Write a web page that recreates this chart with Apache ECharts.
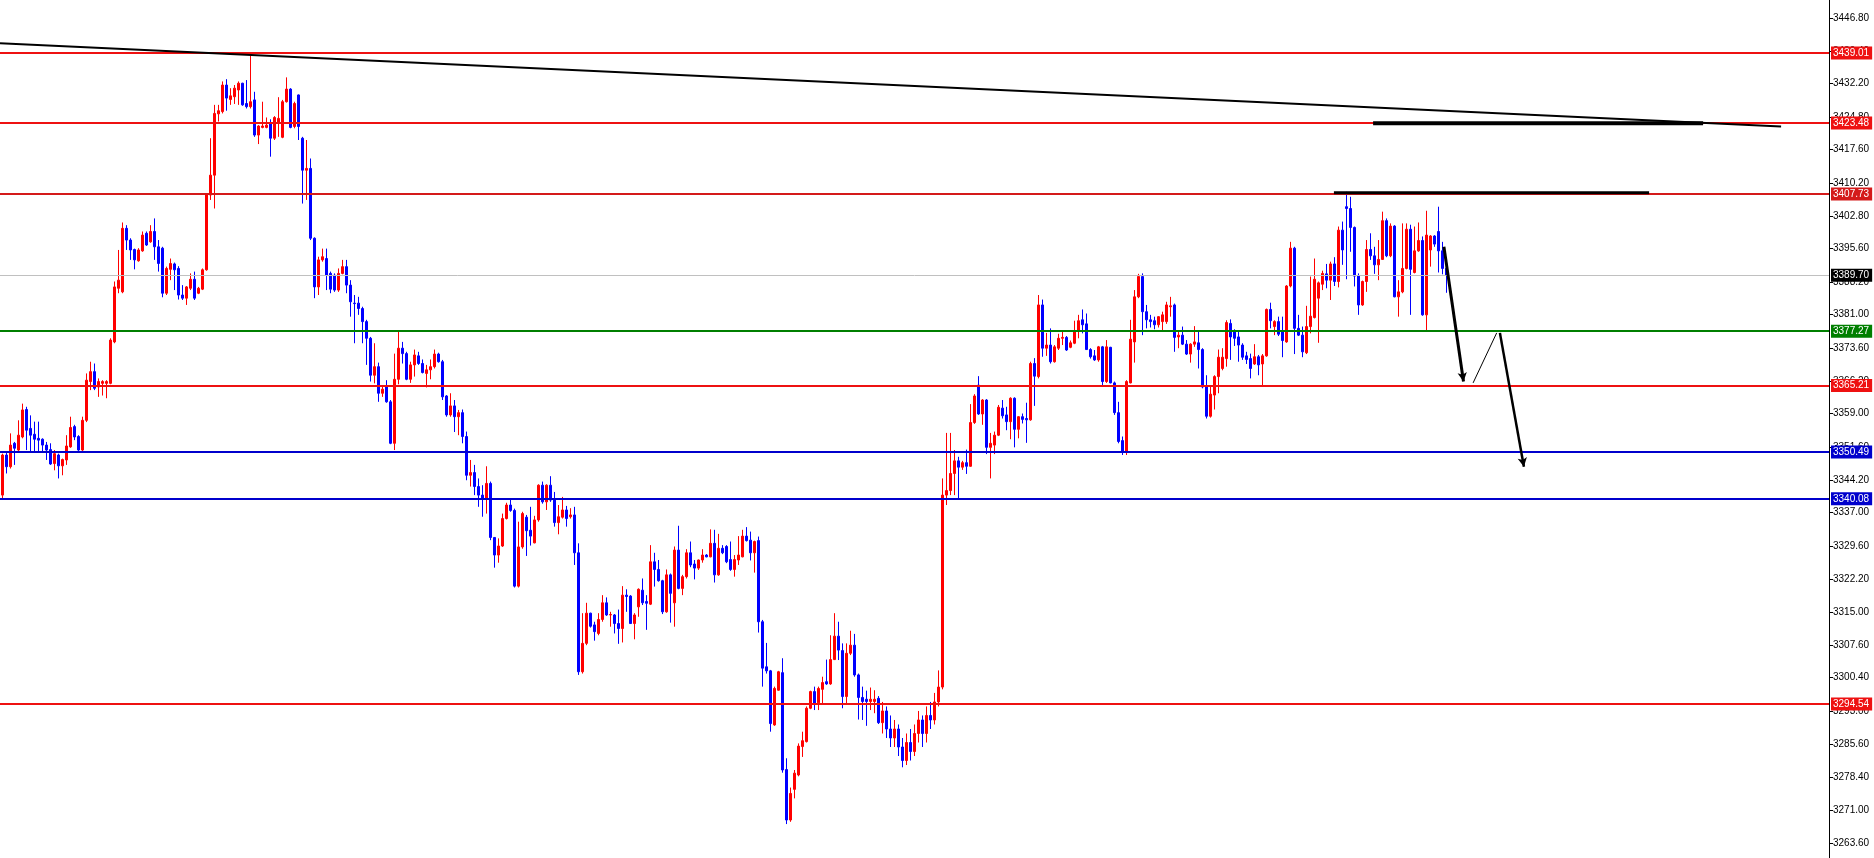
<!DOCTYPE html>
<html><head><meta charset="utf-8">
<script src="https://cdn.jsdelivr.net/npm/echarts@6/dist/echarts.min.js"></script>
<style>html,body{margin:0;padding:0;background:#fff}#c{width:1874px;height:858px}</style>
</head><body><div id="c"></div>
<script>
// candles: [open, close, low, high]
const candles = [
[3340.9,3349.8,3340.2,3350.1],[3349.8,3347.2,3345.7,3350.5],[3347.2,3352.0,3346.8,3354.6],[3352.4,3351.3,3347.6,3352.7],
[3350.9,3354.2,3350.5,3357.5],[3353.8,3359.8,3353.5,3361.2],[3359.9,3355.3,3350.9,3360.5],[3355.7,3354.2,3350.5,3358.6],
[3354.4,3353.3,3350.5,3357.2],[3353.5,3353.1,3350.5,3357.2],[3353.3,3352.0,3350.5,3353.5],[3352.0,3350.9,3348.7,3352.7],
[3351.0,3347.8,3347.6,3352.4],[3347.9,3350.1,3346.4,3350.9],[3349.8,3347.4,3344.6,3350.1],[3347.4,3348.8,3345.3,3349.0],
[3348.7,3351.8,3347.6,3354.2],[3351.6,3355.9,3351.4,3358.3],[3356.1,3353.8,3353.1,3356.5],[3353.9,3350.9,3350.7,3354.2],
[3350.9,3357.5,3350.7,3358.3],[3357.5,3366.4,3357.1,3367.9],[3366.1,3368.3,3364.2,3370.5],[3368.3,3364.6,3364.2,3370.1],
[3364.9,3366.1,3362.7,3366.8],[3365.7,3366.1,3363.0,3366.4],[3365.7,3366.1,3362.4,3366.4],[3365.7,3375.3,3365.5,3375.7],
[3374.9,3387.1,3374.6,3388.3],[3386.8,3388.6,3385.7,3395.3],[3386.0,3400.1,3385.7,3401.4],[3400.1,3397.5,3395.3,3400.8],
[3397.5,3395.3,3393.1,3397.9],[3395.4,3393.1,3391.0,3395.6],[3392.9,3395.3,3392.7,3395.7],[3395.1,3398.6,3394.9,3399.4],
[3399.0,3396.4,3396.2,3399.4],[3397.1,3399.4,3396.9,3400.8],[3399.4,3396.0,3393.1,3402.3],[3396.0,3392.3,3390.5,3397.5],
[3395.7,3385.7,3384.8,3396.0],[3385.7,3391.2,3385.3,3391.6],[3391.0,3392.3,3388.6,3393.4],[3392.2,3390.9,3386.4,3392.5],
[3391.2,3385.3,3384.3,3391.7],[3385.3,3384.6,3384.2,3387.5],[3384.6,3387.1,3383.1,3387.3],[3386.8,3388.8,3386.4,3390.1],
[3388.8,3384.6,3384.2,3390.5],[3385.7,3386.8,3385.5,3387.1],[3386.6,3390.9,3386.4,3391.2],[3390.9,3407.5,3390.7,3407.9],
[3407.5,3411.9,3406.4,3420.1],[3411.9,3425.6,3404.5,3427.5],[3425.5,3426.2,3423.8,3427.5],[3426.0,3431.9,3425.6,3432.7],
[3431.9,3429.0,3426.2,3433.2],[3428.7,3429.5,3427.5,3431.2],[3429.3,3431.2,3427.7,3431.9],[3430.8,3432.3,3427.5,3432.7],
[3432.3,3427.5,3427.3,3432.4],[3427.8,3427.1,3426.7,3433.0],[3427.1,3428.2,3426.7,3438.9],[3428.6,3420.8,3420.4,3430.4],
[3420.8,3422.8,3418.8,3423.0],[3422.5,3422.8,3422.3,3428.2],[3422.5,3423.0,3422.3,3424.7],[3423.4,3420.1,3416.0,3424.3],
[3420.1,3424.7,3419.7,3425.0],[3423.6,3424.5,3420.4,3429.2],[3420.3,3428.2,3420.1,3428.6],[3428.2,3431.0,3428.0,3433.6],
[3431.0,3422.5,3422.3,3431.2],[3422.7,3427.8,3422.3,3428.2],[3429.7,3422.7,3419.7,3429.8],[3420.1,3413.0,3405.6,3420.4],
[3413.0,3413.4,3406.4,3419.7],[3413.4,3397.9,3397.5,3415.6],[3397.9,3387.1,3384.6,3398.1],[3387.1,3393.1,3385.3,3393.8],
[3393.1,3393.8,3392.7,3395.6],[3393.4,3389.7,3386.4,3395.6],[3390.1,3386.6,3385.7,3390.5],[3389.7,3386.4,3386.0,3390.1],
[3386.4,3390.1,3386.0,3391.2],[3390.1,3391.6,3389.9,3393.1],[3391.6,3387.5,3385.7,3393.1],[3387.5,3383.8,3380.5,3388.6],
[3383.5,3383.4,3374.6,3385.3],[3383.5,3382.3,3380.9,3384.9],[3382.3,3379.4,3374.6,3382.7],[3379.4,3375.7,3369.8,3379.8],
[3375.7,3367.5,3366.1,3376.0],[3367.5,3369.4,3365.7,3374.6],[3369.4,3363.5,3361.6,3370.3],[3363.5,3364.4,3362.7,3365.3],
[3365.0,3361.6,3361.4,3366.4],[3361.6,3352.4,3352.2,3362.0],[3352.4,3366.6,3350.9,3372.3],[3366.6,3373.5,3365.5,3377.2],
[3373.5,3372.3,3370.1,3374.9],[3372.3,3366.6,3366.4,3372.7],[3366.6,3369.8,3365.8,3370.5],[3369.8,3372.0,3367.2,3373.2],
[3371.8,3370.1,3369.8,3372.7],[3370.1,3368.1,3367.9,3371.0],[3367.9,3368.7,3364.8,3369.8],[3368.7,3369.4,3366.6,3371.0],
[3369.4,3372.2,3369.0,3373.2],[3372.2,3370.5,3370.3,3372.5],[3370.5,3362.7,3362.0,3370.9],[3362.9,3358.7,3358.3,3363.1],
[3358.7,3360.7,3358.3,3363.5],[3360.7,3358.3,3354.9,3362.0],[3358.3,3359.2,3354.2,3359.8],[3359.2,3353.9,3352.4,3359.9],
[3353.9,3345.3,3344.2,3355.0],[3345.3,3345.9,3342.8,3348.7],[3345.9,3342.8,3340.9,3347.6],[3342.8,3340.9,3338.3,3344.6],
[3340.9,3340.2,3336.1,3343.1],[3340.2,3343.5,3336.8,3347.3],[3343.5,3331.5,3330.9,3343.9],[3331.5,3327.6,3324.8,3331.6],
[3327.6,3329.6,3325.9,3331.3],[3329.6,3335.7,3329.4,3336.8],[3335.7,3338.7,3335.5,3339.2],[3338.7,3337.5,3337.2,3339.9],
[3337.5,3320.7,3320.4,3337.9],[3320.7,3329.4,3320.4,3335.0],[3329.4,3336.8,3329.0,3337.2],[3336.0,3333.0,3327.4,3336.5],
[3333.1,3331.8,3329.7,3338.3],[3330.3,3335.4,3330.2,3336.3],[3335.4,3343.1,3335.0,3343.3],[3343.1,3339.4,3339.0,3343.9],
[3339.4,3343.1,3337.6,3343.3],[3343.1,3339.8,3339.4,3345.1],[3339.8,3334.8,3333.9,3341.6],[3334.8,3336.1,3332.2,3338.7],
[3336.0,3337.6,3335.7,3340.5],[3337.6,3335.7,3333.9,3338.5],[3336.1,3336.5,3335.7,3338.0],[3336.5,3328.1,3325.4,3338.3],
[3328.1,3301.7,3301.0,3330.2],[3301.7,3308.0,3301.3,3314.7],[3308.0,3314.7,3307.6,3317.0],[3314.7,3311.8,3311.5,3314.8],
[3312.1,3310.6,3308.6,3312.8],[3310.2,3313.3,3309.8,3314.7],[3313.3,3317.0,3312.8,3318.7],[3317.0,3314.3,3314.1,3318.2],
[3314.3,3314.4,3311.7,3315.0],[3314.3,3312.4,3310.2,3314.5],[3312.4,3311.3,3307.9,3315.5],[3311.3,3318.7,3308.2,3320.7],
[3318.7,3318.4,3315.0,3320.0],[3318.5,3312.4,3312.3,3318.7],[3312.4,3314.3,3308.9,3314.7],[3316.1,3320.0,3313.9,3320.2],
[3319.8,3317.0,3316.5,3322.4],[3317.3,3316.9,3311.0,3318.7],[3316.7,3326.1,3316.5,3329.8],[3326.1,3324.4,3320.6,3328.1],
[3324.4,3321.9,3321.7,3326.5],[3321.9,3315.0,3314.5,3322.1],[3315.0,3323.2,3314.8,3324.4],[3323.2,3319.1,3312.6,3323.5],
[3317.0,3328.7,3311.7,3329.5],[3328.7,3320.2,3320.0,3334.1],[3320.2,3322.8,3318.7,3323.2],[3322.8,3328.1,3322.4,3328.9],
[3328.1,3325.4,3324.9,3330.6],[3325.6,3324.7,3322.2,3326.5],[3324.7,3326.5,3324.3,3326.6],[3326.5,3327.6,3325.9,3328.9],
[3327.6,3327.2,3327.1,3327.8],[3327.2,3330.2,3327.1,3333.3],[3330.2,3323.2,3321.5,3333.2],[3323.2,3329.1,3323.0,3332.3],
[3329.1,3328.1,3327.8,3329.8],[3329.5,3326.1,3325.8,3329.8],[3326.6,3324.4,3324.1,3330.6],[3324.4,3326.6,3322.8,3327.6],
[3326.5,3327.6,3325.4,3331.8],[3327.2,3331.8,3327.1,3333.2],[3331.8,3330.8,3330.6,3333.8],[3330.9,3328.1,3326.4,3332.8],
[3328.1,3330.6,3323.7,3330.8],[3330.8,3312.8,3310.4,3331.7],[3312.8,3302.5,3298.4,3313.2],[3302.8,3301.9,3301.3,3308.1],
[3301.9,3290.2,3288.4,3302.1],[3289.9,3298.0,3289.7,3298.4],[3297.6,3301.7,3297.5,3301.9],[3301.5,3279.9,3279.3,3304.7],
[3280.0,3268.8,3267.9,3282.5],[3268.8,3274.7,3268.4,3276.0],[3275.6,3279.2,3273.6,3279.9],[3278.8,3285.2,3278.5,3285.8],
[3285.1,3286.4,3282.8,3288.4],[3286.2,3293.6,3286.0,3294.0],[3293.6,3297.3,3293.4,3297.5],[3297.3,3294.7,3293.2,3298.4],
[3294.8,3298.0,3293.2,3298.4],[3297.8,3299.3,3294.7,3300.6],[3299.5,3299.0,3298.8,3304.4],[3299.0,3304.4,3298.8,3309.8],
[3304.4,3309.6,3304.3,3314.7],[3309.6,3306.5,3304.3,3312.8],[3306.4,3296.2,3293.6,3308.0],[3296.2,3305.8,3294.7,3308.0],
[3305.8,3307.6,3305.4,3310.8],[3307.6,3301.0,3300.6,3310.1],[3301.0,3296.0,3291.1,3301.3],[3296.0,3295.1,3291.0,3298.4],
[3295.6,3295.1,3289.7,3297.5],[3295.1,3295.6,3293.2,3298.2],[3295.1,3295.6,3292.5,3297.6],[3295.8,3290.4,3290.1,3296.3],
[3290.4,3293.0,3288.0,3295.0],[3293.0,3289.0,3287.0,3294.0],[3289.0,3287.0,3285.0,3292.0],[3287.0,3289.0,3285.0,3291.0],
[3289.0,3285.0,3283.0,3290.0],[3285.0,3282.0,3280.5,3287.0],[3282.0,3286.0,3281.0,3288.0],[3286.0,3284.0,3282.0,3289.0],
[3284.0,3288.0,3283.0,3290.0],[3288.0,3291.0,3286.0,3293.0],[3291.0,3288.0,3285.0,3292.0],[3288.0,3292.0,3286.0,3294.0],
[3292.0,3291.0,3289.0,3295.0],[3291.0,3295.0,3290.0,3297.0],[3295.0,3298.3,3294.0,3302.0],
[3298.3,3340.9,3297.8,3344.6],[3340.9,3341.9,3338.7,3354.7],[3341.9,3345.7,3340.9,3354.7],[3345.7,3348.5,3340.9,3350.9],
[3348.5,3347.1,3340.2,3349.4],[3347.1,3348.1,3346.5,3348.5],[3348.1,3347.3,3345.6,3351.0],[3347.3,3357.0,3347.2,3361.1],
[3357.0,3362.9,3356.7,3363.3],[3365.3,3358.9,3358.7,3367.3],[3358.9,3362.0,3356.5,3362.2],[3362.0,3351.5,3350.0,3362.2],
[3351.5,3352.4,3344.6,3354.7],[3352.0,3354.2,3350.0,3355.0],[3354.2,3360.4,3354.0,3360.9],[3360.2,3358.5,3357.9,3362.0],
[3358.7,3357.2,3355.3,3360.5],[3357.2,3362.4,3353.3,3362.6],[3362.4,3355.5,3351.5,3362.6],[3355.5,3358.3,3353.5,3358.4],
[3358.3,3357.7,3356.8,3359.0],[3357.9,3357.6,3352.5,3361.4],[3357.6,3370.1,3357.4,3370.5],[3370.1,3367.3,3360.7,3371.3],
[3367.2,3383.1,3366.8,3385.3],[3383.1,3373.5,3371.6,3384.3],[3373.5,3374.2,3371.8,3376.9],[3374.2,3370.5,3370.1,3377.9],
[3370.5,3373.8,3370.3,3374.2],[3373.5,3375.7,3373.1,3376.7],[3375.7,3375.9,3374.2,3377.5],[3375.9,3373.1,3372.9,3376.2],
[3373.7,3374.7,3373.5,3375.2],[3374.6,3377.2,3374.4,3379.6],[3377.2,3379.6,3375.7,3380.9],[3379.8,3378.7,3376.8,3382.1],
[3378.9,3373.2,3373.1,3381.2],[3373.2,3371.6,3371.2,3373.5],[3371.8,3370.9,3370.7,3373.1],[3370.9,3373.8,3370.5,3374.0],
[3373.8,3366.1,3365.3,3374.0],[3366.1,3373.8,3365.8,3375.3],[3373.7,3365.8,3365.7,3373.8],[3365.8,3359.2,3358.7,3366.1],
[3359.2,3352.8,3352.4,3361.6],[3353.0,3350.5,3349.8,3353.9],[3350.5,3366.1,3349.8,3366.4],[3365.8,3375.5,3365.7,3379.8],
[3374.9,3384.9,3370.3,3386.4],[3384.9,3389.4,3384.6,3390.0],[3389.4,3381.6,3376.4,3390.1],[3381.6,3379.8,3377.9,3383.1],
[3379.8,3379.4,3378.1,3380.9],[3379.6,3378.7,3377.7,3380.5],[3378.7,3380.5,3378.1,3380.6],[3379.4,3380.9,3377.5,3381.6],
[3379.4,3383.1,3378.9,3383.8],[3382.7,3382.9,3380.5,3384.9],[3383.1,3375.9,3372.7,3383.4],[3376.0,3376.4,3373.5,3377.2],
[3376.4,3374.4,3374.2,3378.3],[3374.4,3372.2,3372.0,3375.3],[3372.2,3374.4,3370.3,3374.6],[3374.4,3374.9,3373.8,3378.4],
[3374.7,3373.2,3369.0,3377.2],[3373.2,3364.9,3364.6,3373.5],[3364.9,3358.4,3357.9,3367.5],[3358.4,3363.3,3358.1,3364.9],
[3363.1,3367.2,3359.9,3367.5],[3367.2,3371.5,3363.5,3373.2],[3369.0,3371.5,3368.6,3373.5],[3371.2,3379.2,3369.4,3379.7],
[3379.0,3376.0,3370.9,3379.9],[3377.2,3375.7,3374.0,3377.7],[3376.0,3374.2,3370.5,3377.2],[3374.2,3371.5,3370.9,3374.6],
[3371.8,3371.0,3370.0,3372.7],[3371.2,3369.0,3366.8,3372.3],[3370.0,3371.6,3369.8,3374.4],[3371.6,3369.8,3367.5,3372.0],
[3370.0,3371.8,3365.1,3372.2],[3371.8,3382.1,3371.6,3382.3],[3382.1,3379.6,3377.9,3383.6],[3378.3,3379.4,3376.4,3379.7],
[3379.4,3376.6,3376.2,3380.5],[3377.2,3375.2,3371.5,3380.5],[3374.9,3387.3,3374.7,3387.5],[3387.3,3395.7,3387.0,3397.1],
[3395.7,3377.9,3372.2,3396.0],[3377.9,3376.4,3376.2,3380.9],[3376.4,3372.7,3371.5,3378.3],[3372.5,3378.3,3372.2,3382.9],
[3378.3,3380.6,3376.8,3389.4],[3380.3,3388.8,3380.1,3393.4],[3384.6,3388.0,3374.7,3388.3],[3387.7,3390.1,3386.4,3390.7],
[3390.0,3388.6,3386.8,3392.2],[3388.6,3392.2,3384.2,3392.7],[3392.2,3388.3,3387.3,3393.7],[3388.3,3399.7,3387.0,3400.5],
[3399.7,3395.3,3392.0,3401.6],[3404.9,3404.5,3388.8,3408.2],[3404.5,3400.3,3394.9,3407.1],[3400.3,3389.5,3387.2,3400.5],
[3389.5,3383.1,3380.9,3390.1],[3383.1,3388.3,3382.9,3388.5],[3388.3,3395.4,3386.0,3397.5],[3395.4,3394.0,3393.1,3399.0],
[3394.0,3392.0,3390.0,3396.0],[3392.0,3393.2,3388.6,3397.5],[3393.2,3401.8,3393.1,3403.8],[3401.8,3394.0,3393.7,3402.3],
[3394.0,3400.6,3393.7,3401.2],[3400.6,3384.9,3384.8,3400.8],[3384.9,3386.0,3380.5,3388.6],[3386.0,3391.2,3385.7,3401.2],
[3391.2,3399.9,3391.0,3401.2],[3399.9,3391.0,3380.9,3400.9],[3390.3,3395.1,3390.1,3400.5],[3395.1,3397.4,3394.9,3401.4],
[3397.4,3380.9,3380.7,3398.3],[3380.9,3398.6,3377.2,3404.0],[3395.3,3398.4,3391.6,3398.6],[3398.4,3396.6,3396.0,3398.6],
[3399.4,3395.1,3390.3,3404.9],[3395.1,3391.2,3389.9,3397.1],[3391.2,3389.7,3385.8,3391.9]
];
const yTickValues = [3263.6,3271.0,3278.4,3285.6,3293.0,3300.4,3307.6,3315.0,3322.2,3329.6,3337.0,3344.2,3351.6,3359.0,3366.2,3373.6,3381.0,3388.2,3395.6,3402.8,3410.2,3417.6,3424.8,3432.2,3439.4,3446.8];
const yRange = [3260.37, 3450.77];
const xRange = [-0.675, 456.575];
const redLevels = [3439.01, 3423.48, 3407.73, 3365.21, 3294.54];
const greenLevels = [3377.27];
const blueLevels = [3350.49, 3340.08];
const lastPrice = 3389.70;
const trendline = [[-0.675, 3441.2], [444.6, 3422.7]];
const resistSegments = [[[342.6, 3423.4], [425.1, 3423.4]], [[332.8, 3408.0], [411.6, 3408.0]]];
const arrowThick1 = [[360.3, 3396.0], [365.2, 3366.1]];
const thinLeg = [[367.6, 3365.8], [373.5, 3376.9]];
const arrowThick2 = [[374.3, 3376.9], [380.3, 3347.2]];

const chart = echarts.init(document.getElementById('c'), null, {renderer: 'canvas'});
const FONT = 'Liberation Sans, Arial, sans-serif';
function levelLine(v, color) {
  return {
    yAxis: v,
    lineStyle: {color: color, width: 2, type: 'solid'},
    label: {show: true, position: 'end', distance: 2, formatter: v.toFixed(2), color: '#fff',
      backgroundColor: color, padding: [2, 3, 1, 2], fontSize: 10, fontFamily: FONT}
  };
}
const levelData = [].concat(
  redLevels.map(v => levelLine(v, v === 3407.73 ? '#d41a1a' : '#ee1111')),
  greenLevels.map(v => levelLine(v, '#007f00')),
  blueLevels.map(v => levelLine(v, '#0000cc')),
  [{yAxis: lastPrice, lineStyle: {color: '#c0c0c0', width: 1, type: 'solid'},
    label: {show: true, position: 'end', distance: 2, formatter: lastPrice.toFixed(2), color: '#fff',
      backgroundColor: '#000', padding: [2, 3, 1, 2], fontSize: 10, fontFamily: FONT}}]
);
function seg(pts, width, color, z) {
  return {type: 'line', data: pts, showSymbol: false, symbol: 'none', z: z || 5, silent: true,
    lineStyle: {color: color, width: width}, animation: false};
}
const option = {
  animation: false,
  backgroundColor: '#fff',
  grid: {left: 0, right: 45, top: 0, bottom: 0, containLabel: false},
  xAxis: {type: 'value', min: xRange[0], max: xRange[1], show: false},
  yAxis: {
    type: 'value', position: 'right', min: yRange[0], max: yRange[1], scale: true,
    axisLine: {show: true, onZero: false, lineStyle: {color: '#000', width: 1}},
    axisTick: {show: true, length: 4, inside: false, lineStyle: {color: '#000'}, customValues: yTickValues},
    axisLabel: {show: true, margin: 4, color: '#000', fontSize: 10, fontFamily: FONT,
      customValues: yTickValues, formatter: v => v.toFixed(2)},
    splitLine: {show: false}
  },
  series: [
    {
      type: 'candlestick', z: 2,
      data: candles.map((d, i) => [i, d[0], d[1], d[2], d[3]]),
      encode: {x: 0, y: [1, 2, 3, 4]},
      barWidth: 2,
      itemStyle: {color: '#ff0000', color0: '#0000ff', borderColor: '#ff0000', borderColor0: '#0000ff', borderWidth: 1},
      markLine: {silent: true, symbol: ['none', 'none'], animation: false, data: levelData, z: 3}
    },
    seg(trendline, 2, '#000', 4),
    seg(resistSegments[0], 4, '#000', 6),
    seg(resistSegments[1], 3, '#000', 6),
    seg(thinLeg, 1, '#000', 6),
    {
      type: 'line', data: [], silent: true, z: 6,
      markLine: {silent: true, animation: false, symbol: ['none', 'arrow'], symbolSize: [7, 9],
        lineStyle: {color: '#000', width: 3, type: 'solid'}, label: {show: false},
        data: [
          [{coord: arrowThick1[0]}, {coord: arrowThick1[1]}],
          [{coord: arrowThick2[0], lineStyle: {width: 2.5}}, {coord: arrowThick2[1]}]
        ]}
    }
  ]
};
chart.setOption(option);
</script></body></html>
